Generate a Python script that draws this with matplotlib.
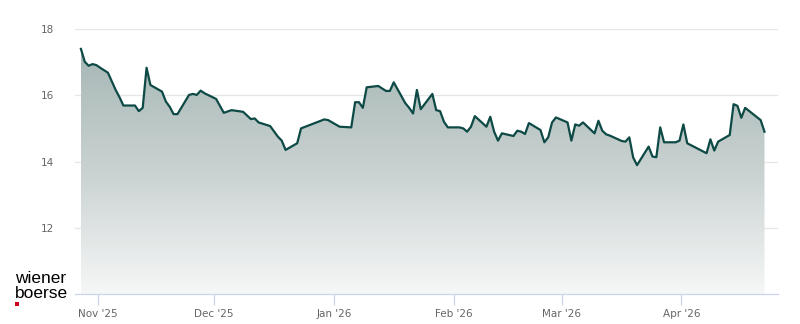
import numpy as np
import pandas as pd
import matplotlib
matplotlib.use("Agg")
import matplotlib.pyplot as plt
import matplotlib.dates as mdates
from matplotlib.colors import LinearSegmentedColormap
from matplotlib.patches import Rectangle, PathPatch

# ---- data (closing prices) ----
dates = [
    "2025-10-27", "2025-10-28", "2025-10-29", "2025-10-30", "2025-10-31",
    "2025-11-01", "2025-11-03", "2025-11-05", "2025-11-06", "2025-11-07",
    "2025-11-10", "2025-11-11", "2025-11-12", "2025-11-13", "2025-11-14",
    "2025-11-17", "2025-11-18", "2025-11-19", "2025-11-20", "2025-11-21",
    "2025-11-24", "2025-11-25", "2025-11-26", "2025-11-27", "2025-11-28",
    "2025-12-01", "2025-12-03", "2025-12-05", "2025-12-08", "2025-12-10",
    "2025-12-11", "2025-12-12", "2025-12-15", "2025-12-17", "2025-12-18",
    "2025-12-19", "2025-12-22", "2025-12-23", "2025-12-29", "2025-12-30",
    "2026-01-02", "2026-01-05", "2026-01-06", "2026-01-07", "2026-01-08",
    "2026-01-09", "2026-01-12", "2026-01-14", "2026-01-15", "2026-01-16",
    "2026-01-19", "2026-01-20", "2026-01-21", "2026-01-22", "2026-01-23",
    "2026-01-26", "2026-01-27", "2026-01-28", "2026-01-29", "2026-01-30",
    "2026-02-02", "2026-02-03", "2026-02-04", "2026-02-05", "2026-02-06",
    "2026-02-09", "2026-02-10", "2026-02-11", "2026-02-12", "2026-02-13",
    "2026-02-16", "2026-02-17", "2026-02-18", "2026-02-19", "2026-02-20",
    "2026-02-23", "2026-02-24", "2026-02-25", "2026-02-26", "2026-02-27",
    "2026-03-02", "2026-03-03", "2026-03-04", "2026-03-05", "2026-03-06",
    "2026-03-09", "2026-03-10", "2026-03-11", "2026-03-12", "2026-03-13",
    "2026-03-16", "2026-03-17", "2026-03-18", "2026-03-19", "2026-03-20",
    "2026-03-23", "2026-03-24", "2026-03-25", "2026-03-26", "2026-03-27",
    "2026-03-30", "2026-03-31", "2026-04-01", "2026-04-02", "2026-04-07",
    "2026-04-08", "2026-04-09", "2026-04-10", "2026-04-13", "2026-04-14",
    "2026-04-15", "2026-04-16", "2026-04-17", "2026-04-21", "2026-04-22",
]
prices = [
    17.40, 17.01, 16.89, 16.94, 16.91,
    16.83, 16.68, 16.16, 15.94, 15.69,
    15.69, 15.52, 15.62, 16.83, 16.31,
    16.11, 15.81, 15.65, 15.43, 15.43,
    16.01, 16.04, 16.01, 16.14, 16.06,
    15.89, 15.47, 15.55, 15.50, 15.28,
    15.30, 15.18, 15.07, 14.75, 14.63,
    14.35, 14.55, 15.00, 15.27, 15.25,
    15.05, 15.03, 15.79, 15.79, 15.62,
    16.24, 16.28, 16.13, 16.13, 16.39,
    15.76, 15.62, 15.45, 16.16, 15.58,
    16.04, 15.55, 15.52, 15.20, 15.03,
    15.03, 15.00, 14.90, 15.05, 15.37,
    15.05, 15.35, 14.90, 14.63, 14.85,
    14.77, 14.93, 14.90, 14.83, 15.16,
    14.95, 14.58, 14.73, 15.18, 15.33,
    15.18, 14.63, 15.12, 15.08, 15.18,
    14.85, 15.23, 14.93, 14.82, 14.78,
    14.62, 14.60, 14.73, 14.12, 13.89,
    14.45, 14.15, 14.13, 15.03, 14.58,
    14.58, 14.63, 15.12, 14.55, 14.25,
    14.67, 14.33, 14.60, 14.80, 15.73,
    15.68, 15.32, 15.62, 15.25, 14.90,
]
y_ticks = [12, 14, 16, 18]
month_ticks = ["2025-11-01", "2025-12-01", "2026-01-01", "2026-02-01", "2026-03-01", "2026-04-01"]
month_labels = ["Nov '25", "Dec '25", "Jan '26", "Feb '26", "Mar '26", "Apr '26"]

# daily timestamps taken at midday
x = mdates.date2num(pd.to_datetime(dates) + pd.Timedelta(hours=12))
y = np.array(prices)

W, H = 800, 324
fig = plt.figure(figsize=(W / 100, H / 100), dpi=100)
ax = fig.add_axes([75 / W, 30 / H, (778 - 75) / W, (294 - 29) / H])

ymin, ymax = 10, 18
nov1 = mdates.date2num(pd.Timestamp("2025-11-01"))
ax.set_xlim(nov1 - 6.03, nov1 + 176.0)
ax.set_ylim(ymin, ymax)

# gradient area fill
cmap = LinearSegmentedColormap.from_list("g", ["#f6f7f7", "#c9d2d1", "#a6b7b5"])
grad = np.linspace(0, 1, 256).reshape(-1, 1)
top = y.max()
im = ax.imshow(grad, aspect="auto", cmap=cmap, origin="lower",
               extent=[x.min(), x.max(), ymin, top], zorder=1)
poly = ax.fill_between(x, y, ymin, color="none", lw=0)
clip = poly.get_paths()[0]
patch = PathPatch(clip, transform=ax.transData, facecolor="none", edgecolor="none")
ax.add_patch(patch)
im.set_clip_path(patch)

ax.plot(x, y, color="#0e4a45", lw=1.6, zorder=3, solid_joinstyle="round")

# grid
for t in y_ticks:
    ax.axhline(t, color="#e6e6e6", lw=0.9, zorder=0.5)
ax.set_yticks(y_ticks)
ax.set_yticklabels([str(t) for t in y_ticks])
ax.tick_params(axis="y", length=0, pad=15, labelsize=7.5, labelcolor="#666666")

ax.set_xticks(mdates.date2num(pd.to_datetime(month_ticks)))
ax.set_xticklabels(month_labels)
ax.tick_params(axis="x", length=8, width=0.9, color="#ccd6eb", pad=3,
               labelsize=7.5, labelcolor="#666666")

for s in ["top", "right", "left"]:
    ax.spines[s].set_visible(False)
ax.spines["bottom"].set_color("#ccd6eb")
ax.spines["bottom"].set_linewidth(0.9)

# logo
fig.text(15 / W, 1 - 283 / H, "wiener", family="Liberation Sans", fontsize=12.5,
         color="black", va="baseline", ha="left")
fig.text(15 / W, 1 - 298 / H, "boerse", family="Liberation Sans", fontsize=12.5,
         color="black", va="baseline", ha="left")
fig.patches.append(Rectangle((15 / W, 1 - 306 / H), 4 / W, 4 / H,
                             transform=fig.transFigure, facecolor="#d0021b",
                             edgecolor="none"))

fig.savefig("out.png", dpi=100)
